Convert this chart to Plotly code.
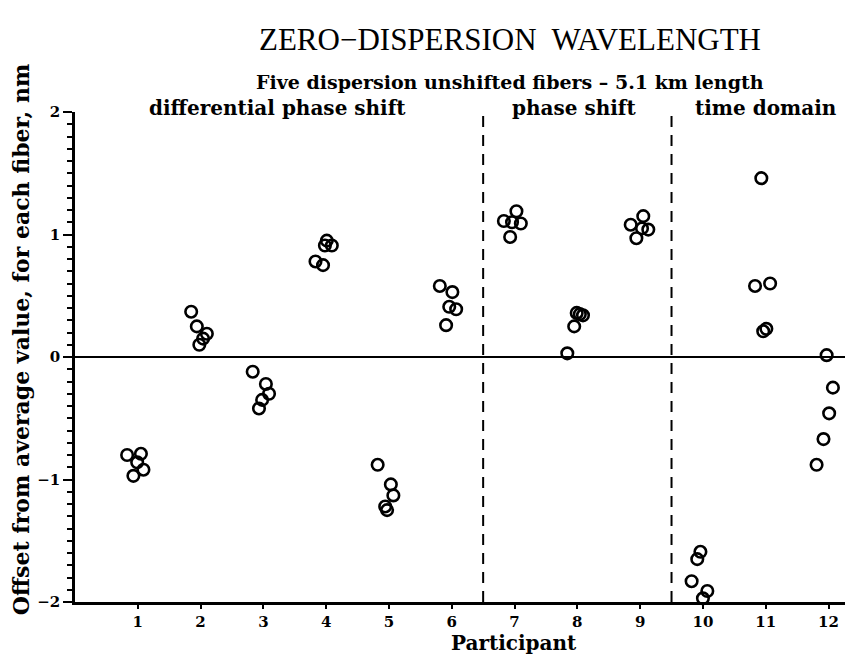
import plotly.graph_objects as go

# Participant positions (as read, with the visual horizontal spread) and offsets, nm
p1_x = [0.83, 1.05, 0.99, 1.09, 0.93]
p1_y = [-0.80, -0.79, -0.86, -0.92, -0.97]
p2_x = [1.85, 1.94, 2.10, 2.04, 1.98]
p2_y = [0.37, 0.25, 0.19, 0.15, 0.10]
p3_x = [2.83, 3.04, 3.09, 2.98, 2.93]
p3_y = [-0.12, -0.22, -0.30, -0.35, -0.42]
p4_x = [3.83, 3.95, 4.01, 3.98, 4.09]
p4_y = [0.78, 0.75, 0.95, 0.91, 0.91]
p5_x = [4.82, 5.03, 5.07, 4.94, 4.97]
p5_y = [-0.88, -1.04, -1.13, -1.22, -1.25]
p6_x = [5.81, 6.01, 5.96, 6.07, 5.91]
p6_y = [0.58, 0.53, 0.41, 0.39, 0.26]
p7_x = [6.83, 7.03, 7.10, 6.93, 6.96]
p7_y = [1.11, 1.19, 1.09, 0.98, 1.10]
p8_x = [7.84, 7.95, 7.99, 8.09, 8.04]
p8_y = [0.03, 0.25, 0.36, 0.34, 0.35]
p9_x = [8.85, 9.05, 9.13, 8.94, 9.03]
p9_y = [1.08, 1.15, 1.04, 0.97, 1.05]
p10_x = [9.96, 9.91, 9.82, 10.07, 10.00]
p10_y = [-1.59, -1.65, -1.83, -1.91, -1.97]
p11_x = [10.93, 10.83, 11.07, 11.01, 10.96]
p11_y = [1.46, 0.58, 0.60, 0.23, 0.21]
p12_x = [11.97, 12.07, 12.01, 11.92, 11.81]
p12_y = [0.015, -0.25, -0.46, -0.67, -0.88]

xs = [p1_x, p2_x, p3_x, p4_x, p5_x, p6_x, p7_x, p8_x, p9_x, p10_x, p11_x, p12_x]
ys = [p1_y, p2_y, p3_y, p4_y, p5_y, p6_y, p7_y, p8_y, p9_y, p10_y, p11_y, p12_y]

x_ticks = list(range(1, 13))
y_ticks = [-2, -1, 0, 1, 2]
method_bounds = [6.5, 9.5]
method_labels = ["differential phase shift", "phase shift", "time domain"]
method_label_px = [0.260, 0.642, 0.888]

BOLD = "DejaVu Serif"

fig = go.Figure()
for x, y in zip(xs, ys):
    fig.add_trace(go.Scatter(
        x=x, y=y, mode="markers",
        marker=dict(symbol="circle-open", size=11.5, color="black",
                    line=dict(width=2.6, color="black")),
        cliponaxis=False, showlegend=False, hoverinfo="skip"))

# zero line
fig.add_shape(type="line", xref="paper", yref="y", x0=0, x1=1, y0=0, y1=0,
              line=dict(color="black", width=2))
for b in method_bounds:
    fig.add_shape(type="line", xref="x", yref="y", x0=b, x1=b, y0=-2, y1=2,
                  line=dict(color="black", width=2, dash="11px,8px"))

for t, xx in zip(method_labels, method_label_px):
    fig.add_annotation(x=xx, y=1.008, xref="paper", yref="paper", text=t,
                       xanchor="center", yanchor="middle", showarrow=False,
                       font=dict(family=BOLD, size=20, color="black", weight="bold"))

fig.add_annotation(x=0.559, y=1.147, xref="paper", yref="paper",
                   text="ZERO\u2212DISPERSION  WAVELENGTH", xanchor="center", yanchor="middle",
                   showarrow=False, font=dict(family="Liberation Serif", size=31, color="black"))
fig.add_annotation(x=0.559, y=1.061, xref="paper", yref="paper",
                   text="Five dispersion unshifted fibers \u2013 5.1 km length",
                   xanchor="center", yanchor="middle", showarrow=False,
                   font=dict(family=BOLD, size=19, color="black", weight="bold"))
fig.add_annotation(x=0.564, y=-0.084, xref="paper", yref="paper", text="Participant",
                   xanchor="center", yanchor="middle", showarrow=False,
                   font=dict(family=BOLD, size=20, color="black", weight="bold"))
fig.add_annotation(x=-0.069, y=0.535, xref="paper", yref="paper", textangle=-90,
                   text="Offset from average value, for each fiber, nm",
                   xanchor="center", yanchor="middle", showarrow=False,
                   font=dict(family=BOLD, size=22, color="black", weight="bold"))

fig.update_layout(
    width=845, height=648,
    margin=dict(l=67, r=0, t=104, b=54, autoexpand=False),
    paper_bgcolor="white", plot_bgcolor="white",
    xaxis=dict(range=[0, 12.39], tickvals=x_ticks, ticks="outside", ticklen=4,
               tickwidth=2, tickcolor="black", showgrid=False, zeroline=False,
               showline=True, linecolor="black", linewidth=2.5,
               tickfont=dict(family=BOLD, size=15, color="black", weight="bold")),
    yaxis=dict(range=[-2, 2], tickvals=y_ticks, ticks="outside", ticklen=9,
               tickwidth=2, tickcolor="black", showgrid=False, zeroline=False,
               showline=True, linecolor="black", linewidth=2.5,
               minor=dict(dtick=0.1, tick0=0, ticks="outside", ticklen=5, tickwidth=1.5,
                          tickcolor="black", showgrid=False),
               tickfont=dict(family=BOLD, size=15, color="black", weight="bold")),
)

fig.write_html("out.html")
